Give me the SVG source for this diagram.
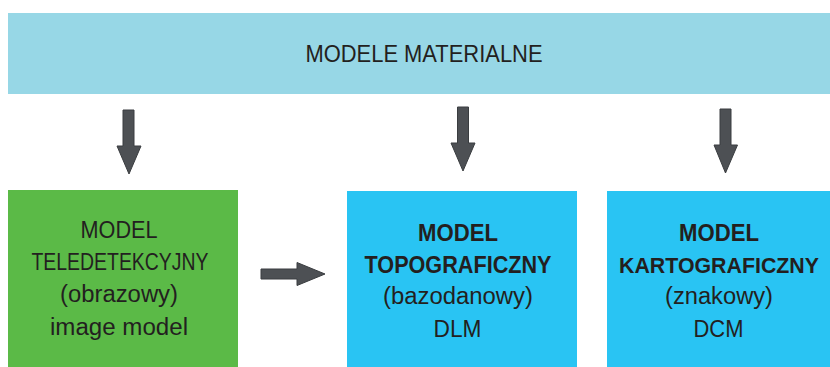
<svg xmlns="http://www.w3.org/2000/svg" width="830" height="367" viewBox="0 0 830 367">
  <style>
    text { font-family: "Liberation Sans", Arial, sans-serif; fill: #231F20; text-anchor: middle; }
    .t { font-size: 24.5px; }
    .n { font-size: 23px; }
    .b { font-size: 23px; font-weight: bold; }
    .arrow { fill: #4D5054; stroke: #3A3D40; stroke-width: 1; }
  </style>
  <rect width="830" height="367" fill="#FFFFFF"/>
  <g id="modele-materialne">
    <rect x="8" y="13" width="822" height="81" fill="#97D7E6"/>
    <text class="t" x="424" y="62" textLength="237" lengthAdjust="spacingAndGlyphs">MODELE MATERIALNE</text>
  </g>
  <g id="model-teledetekcyjny">
    <rect x="8" y="190" width="230" height="177" fill="#5BBA47"/>
    <text class="n" x="119" y="238" textLength="77" lengthAdjust="spacingAndGlyphs">MODEL</text>
    <text class="n" x="120" y="270" textLength="177" lengthAdjust="spacingAndGlyphs">TELEDETEKCYJNY</text>
    <text class="n" x="119" y="302" textLength="118" lengthAdjust="spacingAndGlyphs">(obrazowy)</text>
    <text class="n" x="119" y="335" textLength="138" lengthAdjust="spacingAndGlyphs">image model</text>
  </g>
  <g id="model-topograficzny">
    <rect x="347" y="191" width="230" height="176" fill="#29C4F3"/>
    <text class="b" x="458" y="241" textLength="80" lengthAdjust="spacingAndGlyphs">MODEL</text>
    <text class="b" x="458" y="273" textLength="187" lengthAdjust="spacingAndGlyphs">TOPOGRAFICZNY</text>
    <text class="n" x="458" y="304" textLength="150" lengthAdjust="spacingAndGlyphs">(bazodanowy)</text>
    <text class="n" x="457.5" y="337" textLength="48" lengthAdjust="spacingAndGlyphs">DLM</text>
  </g>
  <g id="model-kartograficzny">
    <rect x="607" y="191" width="223" height="176" fill="#29C4F3"/>
    <text class="b" x="719" y="241" textLength="80" lengthAdjust="spacingAndGlyphs">MODEL</text>
    <text class="b" x="719" y="273" style="font-size:22px" textLength="200" lengthAdjust="spacingAndGlyphs">KARTOGRAFICZNY</text>
    <text class="n" x="719" y="304" textLength="108" lengthAdjust="spacingAndGlyphs">(znakowy)</text>
    <text class="n" x="718.5" y="337" textLength="50" lengthAdjust="spacingAndGlyphs">DCM</text>
  </g>
  <g id="connectors">
    <polygon class="arrow" points="123,110 134,110 134,146 141,146 129,174 117,146 123,146"/>
    <polygon class="arrow" points="457.5,107 468.5,107 468.5,143 475,143 463,171 451,143 457.5,143"/>
    <polygon class="arrow" points="720,109 731,109 731,145 737.5,145 725.5,173 714,145 720,145"/>
    <polygon class="arrow" points="261,269 297,269 297,262.5 325,274 297,285.5 297,279 261,279"/>
  </g>
</svg>
